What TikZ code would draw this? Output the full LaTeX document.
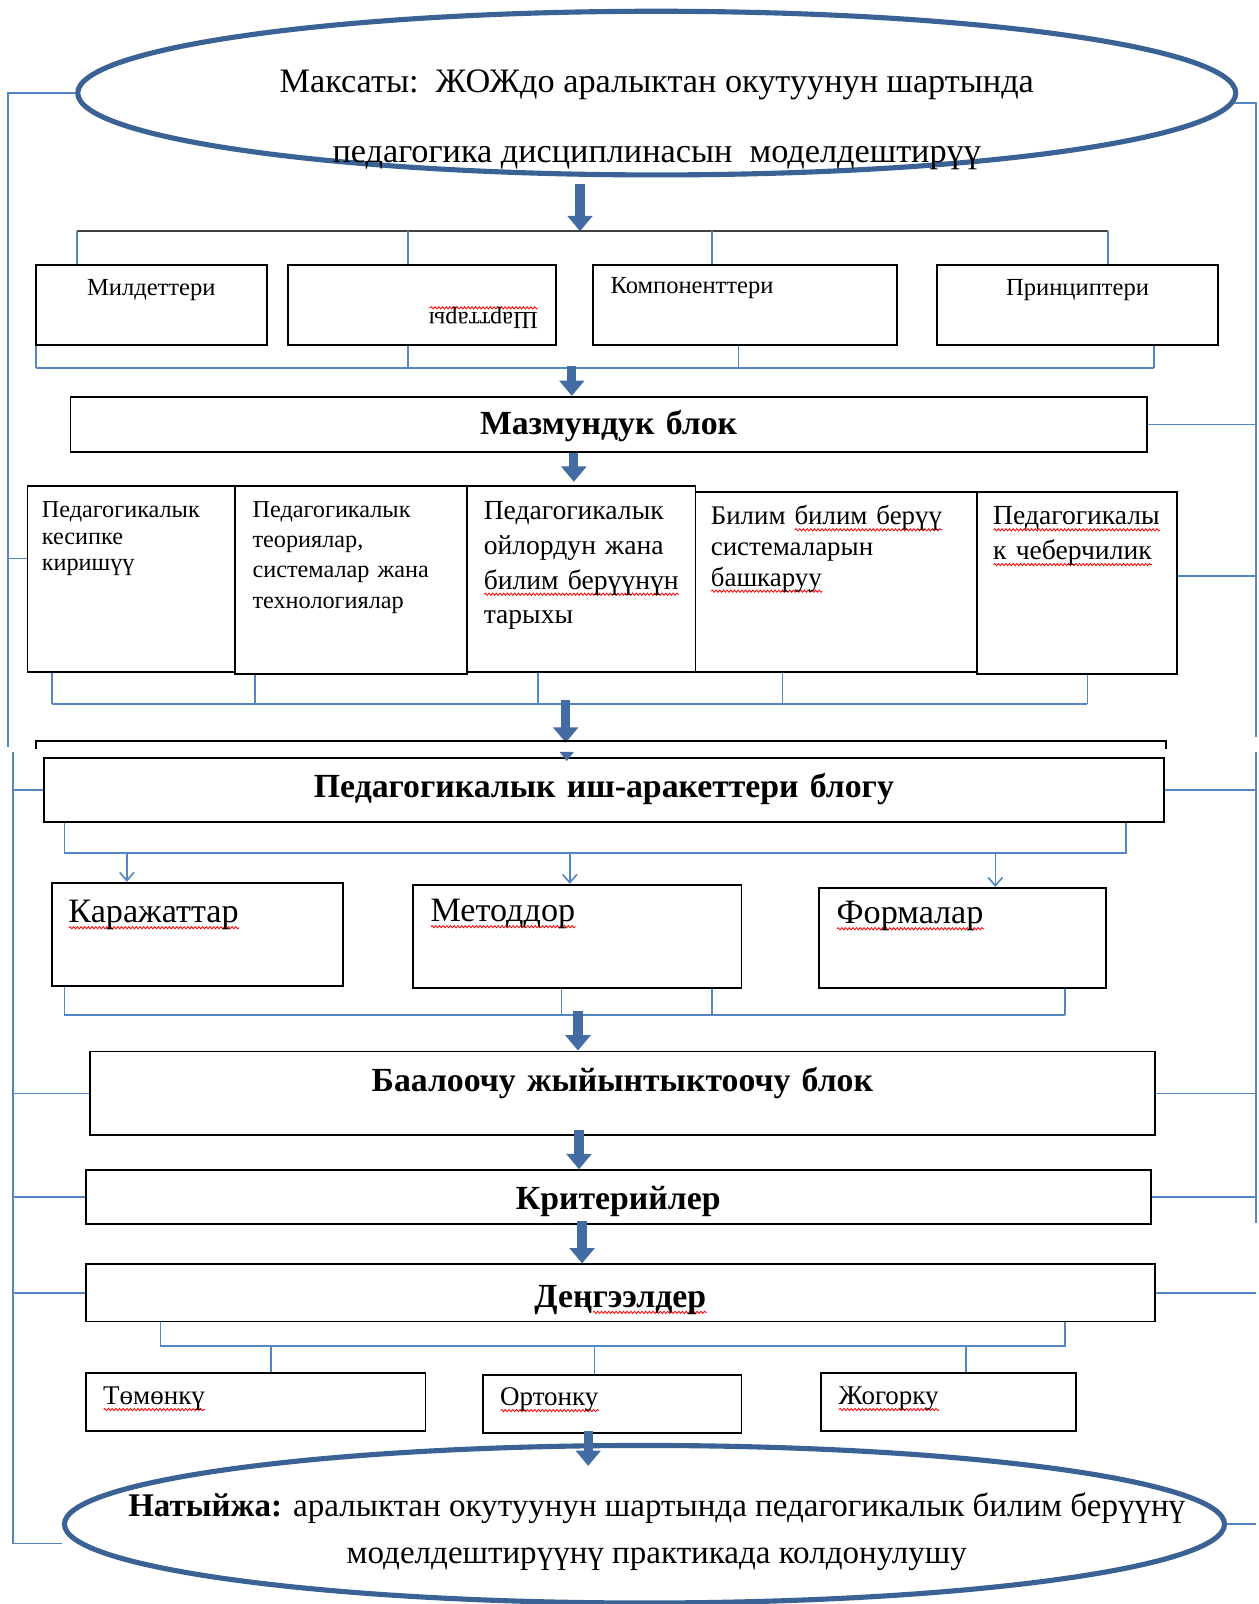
\documentclass[tikz,border=0pt]{standalone}
\usepackage{fontspec}
\setmainfont{Liberation Serif}
\usepackage{graphicx}
\usepackage{tikz}
\usetikzlibrary{positioning}
\usetikzlibrary{arrows.meta}
\usetikzlibrary{shapes.geometric}
\usetikzlibrary{decorations.pathmorphing}
\definecolor{ovalblue}{RGB}{58,98,148}
\definecolor{arrowblue}{RGB}{66,108,163}
\definecolor{linkblue}{RGB}{84,134,196}
\newsavebox{\sqbox}
\newcommand{\sq}[1]{\leavevmode\sbox{\sqbox}{#1}\rlap{\raisebox{-5pt}{\tikz[baseline=0pt]\draw[red,line width=0.8pt,decorate,decoration={snake,amplitude=1.1pt,segment length=3.6pt}] (0pt,0pt) -- (\wd\sqbox,0pt);}}\usebox{\sqbox}}
\tikzset{basic/.style={draw=black,line width=1.8pt}}
\tikzset{cell/.style={basic,rectangle,anchor=north west,inner ysep=0pt,inner xsep=15pt,align=left}}
\tikzset{block/.style={cell,inner xsep=0pt,align=center,font=\fontsize{33}{38}\selectfont\bfseries}}
\tikzset{goal/.style={draw=ovalblue,line width=5pt,ellipse,inner sep=0pt}}
\tikzset{link/.style={draw=linkblue,line width=1.6pt}}
\tikzset{darkline/.style={draw=black!75,line width=2.4pt}}
\tikzset{bigarrow/.style={draw=arrowblue,line width=9pt,-{Triangle[length=15pt,width=24pt]}}}
\tikzset{thinarrow/.style={link,-{Straight Barb[length=8pt,width=14pt]}}}
\begin{document}
\begin{tikzpicture}[x=1pt,y=-1pt]
        \useasboundingbox (0,0) rectangle (1230,1568);
        \node[goal,minimum width=1132pt,minimum height=160pt] (goal) at (642,91) {};
        \node[font=\fontsize{33.5}{68}\selectfont,align=center,inner sep=0pt] (goaltext) at (642,117)
            {Максаты:\ \ ЖОЖдо аралыктан окутуунун шартында\\педагогика дисциплинасын\ \ моделдештирүү};
        % upper part
        \coordinate (tb) at (567,226);
        \coordinate (t1) at (75,226);
        \coordinate (t2) at (399,226);
        \coordinate (t3) at (696,226);
        \coordinate (t4) at (1083,226);
            \path[bigarrow,shorten <=6pt] (tb |- goal.south) -- (tb);
            \path[darkline] (t1) -- (t4);
        \node[cell,font=\fontsize{24}{28}\selectfont,align=center,text width=196pt,text height=30pt,text depth=48pt] (milde) at (34,258) {Милдеттери};
        \node[cell,font=\fontsize{24}{28}\selectfont,align=right,inner xsep=18pt,text width=226pt,text height=47pt,text depth=31pt] (shart) at (281,258) {\rotatebox{180}{\sq{Шарттары}}};
        \node[cell,font=\fontsize{24}{28}\selectfont,inner xsep=17pt,text width=263pt,text height=28pt,text depth=50pt] (kompo) at (579,258) {Компоненттери};
        \node[cell,font=\fontsize{24}{28}\selectfont,align=center,text width=245pt,text height=30pt,text depth=48pt] (princ) at (915,258) {Принциптери};
        \foreach \c/\b in {t1/milde,t2/shart,t3/kompo,t4/princ}
            \path[link] (\c) -- (\c |- \b.north);
        \coordinate (u1) at (35,360);
        \coordinate (u2) at (399,360);
        \coordinate (u3) at (722,360);
        \coordinate (u4) at (1128,360);
            \path[link] (u1) -- (u4);
        \foreach \c/\b in {u1/milde,u2/shart,u3/kompo,u4/princ}
            \path[link] (\c) -- (\c |- \b.south);
        \node[block,text width=1052pt,text height=37pt,text depth=17pt] (maz) at (68,387) {Мазмундук блок};
        \coordinate (a2) at (559,358);
            \path[bigarrow] (a2) -- (a2 |- maz.north);
        \coordinate (a3) at (561,471);
            \path[bigarrow] (maz.south -| a3) -- (a3);
        \node[cell,font=\fontsize{23.7}{26}\selectfont,inner xsep=14pt,text width=175pt,text height=31pt,text depth=151pt] (pA) at (26,474)
            {Педагогикалык\\кесипке\\киришүү};
        \node[cell,font=\fontsize{23.7}{29.5}\selectfont,inner xsep=17pt,text width=193pt,text height=31pt,text depth=153pt] (pB) at (229,474)
            {Педагогикалык\\теориялар,\\системалар жана\\технологиялар};
        \node[cell,font=\fontsize{27}{34}\selectfont,inner xsep=16pt,text width=191pt,text height=33pt,text depth=149pt] (pC) at (456,474)
            {Педагогикалык\\ойлордун жана\\\sq{билим берүүнүн}\\тарыхы};
        \node[cell,font=\fontsize{26.3}{30}\selectfont,inner xsep=15pt,text width=245pt,text height=32pt,text depth=144pt] (pD) at (679,480)
            {Билим \sq{билим берүү}\\системаларын\\\sq{башкаруу}};
        \node[cell,font=\fontsize{27}{34}\selectfont,inner xsep=16pt,text width=164pt,text height=32pt,text depth=146pt] (pE) at (954,480)
            {\sq{Педагогикалы}\\\sq{к чеберчилик}};
        \coordinate (v1) at (51,688);
        \coordinate (v2) at (249,688);
        \coordinate (v3) at (526,688);
        \coordinate (v4) at (765,688);
        \coordinate (v5) at (1063,688);
            \path[link] (v1) -- (v5);
        \foreach \c/\b in {v1/pA,v2/pB,v3/pC,v4/pD,v5/pE}
            \path[link] (\c) -- (\c |- \b.south);
        \coordinate (a4) at (553,684);
        \coordinate (a4e) at (553,726);
            \path[bigarrow] (a4) -- (a4e);
        \draw[basic] (35,732) |- (1140,724) -- (1140,732);
        \coordinate (lup) at (8,730);
        \coordinate (rup) at (1228,720);
            \path[link] (goal.west) -| (lup);
            \path[link] ([yshift=20pt]pA.west) -- ([yshift=20pt]pA.west -| lup);
            \path[link] (goal.-1.3) -| (rup);
            \path[link] (maz.east) -- (maz.east -| rup);
            \path[link] ([yshift=7pt]pE.east) -- ([yshift=7pt]pE.east -| rup);
        % lower part
        \node[block,text width=1095pt,text height=39pt,text depth=24pt] (pedIsh) at (42,740) {Педагогикалык иш-аракеттери блогу};
        \fill[arrowblue] (547,735) -- (561,735) -- (554,744) -- cycle;
        \coordinate (w1) at (63,834);
        \coordinate (w2) at (1101,834);
            \path[link] (w1 |- pedIsh.south) -- (w1) -- (w2) -- (w2 |- pedIsh.south);
        \node[cell,font=\fontsize{33.4}{38}\selectfont,inner xsep=16pt,text width=252pt,text height=39pt,text depth=62pt] (kar) at (50,862) {\sq{Каражаттар}};
        \node[cell,font=\fontsize{33.4}{38}\selectfont,inner xsep=17pt,text width=287pt,text height=36pt,text depth=65pt] (met) at (403,864) {\sq{Методдор}};
        \node[cell,font=\fontsize{33.4}{38}\selectfont,inner xsep=17pt,text width=246pt,text height=35pt,text depth=63pt] (form) at (800,867) {\sq{Формалар}};
        \coordinate (k1) at (124,834);
        \coordinate (k2) at (557,834);
        \coordinate (k3) at (973,834);
        \foreach \c/\b in {k1/kar,k2/met,k3/form}
            \path[thinarrow] (\c) -- (\c |- \b.north);
        \coordinate (x1) at (63,992);
        \coordinate (x2) at (549,992);
        \coordinate (x3) at (696,992);
        \coordinate (x4) at (1041,992);
            \path[link] (x1) -- (x4);
        \foreach \c/\b in {x1/kar,x2/met,x3/met,x4/form}
            \path[link] (\c) -- (\c |- \b.south);
        \node[block,text width=1041pt,text height=39pt,text depth=43pt] (baal) at (87,1027) {Баалоочу жыйынтыктоочу блок};
        \coordinate (a5) at (565,988);
            \path[bigarrow] (a5) -- (a5 |- baal.north);
        \node[block,text width=1041pt,text height=38pt,text depth=15pt] (krit) at (83,1143) {Критерийлер};
        \coordinate (a6) at (566,1105);
            \path[bigarrow] (a6) -- (a6 |- krit.north);
        \node[block,text width=1045pt,text height=42pt,text depth=14pt] (deng) at (83,1235) {Дең\sq{гээлдер}};
        \coordinate (a7) at (569,1194);
            \path[bigarrow] (a7) -- (a7 |- deng.north);
        \coordinate (y1) at (157,1316);
        \coordinate (y2) at (1041,1316);
            \path[link] (y1 |- deng.south) -- (y1) -- (y2) -- (y2 |- deng.south);
        \node[cell,font=\fontsize{26.4}{30}\selectfont,inner xsep=17pt,text width=298pt,text height=31pt,text depth=26pt] (tom) at (83,1341) {\sq{Төмөнкү}};
        \node[cell,font=\fontsize{26.4}{30}\selectfont,inner xsep=17pt,text width=219pt,text height=30pt,text depth=27pt] (ort) at (471,1343) {\sq{Ортонку}};
        \node[cell,font=\fontsize{26.4}{30}\selectfont,inner xsep=17pt,text width=215pt,text height=31pt,text depth=26pt] (zhog) at (802,1341) {\sq{Жогорку}};
        \coordinate (z1) at (265,1316);
        \coordinate (z2) at (581,1316);
        \coordinate (z3) at (944,1316);
        \foreach \c/\b in {z1/tom,z2/ort,z3/zhog}
            \path[link] (\c) -- (\c |- \b.north);
        \node[goal,minimum width=1134pt,minimum height=154pt] (result) at (630,1490) {};
        \node[font=\fontsize{32.3}{46}\selectfont,align=center,inner sep=0pt] (resulttext) at (642,1497)
            {\textbf{Натыйжа:} аралыктан окутуунун шартында педагогикалык билим берүүнү\\моделдештирүүнү практикада колдонулушу};
        \coordinate (a8) at (575,1399);
        \coordinate (a8e) at (575,1433);
            \path[bigarrow] (a8) -- (a8e);
        \coordinate (llt) at (13,735);
        \coordinate (llb) at (13,1509);
            \path[link] (llt) -- (llb) -- (llb -| result.west);
        \foreach \b in {pedIsh,baal,krit,deng}
            \path[link] (\b.west) -- (\b.west -| llt);
        \coordinate (rlt) at (1228,735);
        \coordinate (rlb) at (1228,1196);
            \path[link] (rlt) -- (rlb);
        \foreach \b in {pedIsh,baal,krit,deng,result}
            \path[link] (\b.east) -- (\b.east -| rlt);
\end{tikzpicture}
\end{document}
